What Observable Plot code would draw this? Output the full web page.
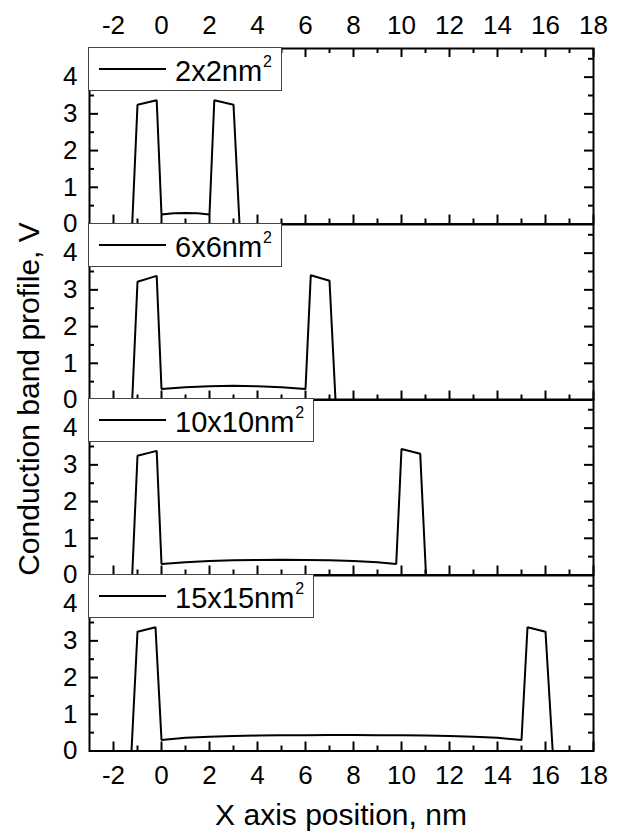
<!DOCTYPE html>
<html>
<head>
<meta charset="utf-8">
<script src="https://cdn.jsdelivr.net/npm/d3@7"></script>
<script src="https://cdn.jsdelivr.net/npm/@observablehq/plot@0.6"></script>
<style>
  body { margin: 0; background: #fff; }
  #wrap { position: relative; width: 621px; height: 833px; font-family: "Liberation Sans", Arial, sans-serif; color: #000; }
  #wrap svg { position: absolute; left: 0; }
  .leg { position: absolute; left: 88px; height: 44px; box-sizing: border-box; border: 1px solid #444; background: #fff;
         display: flex; align-items: center; padding: 6px 9px 0 10px; font-size: 29px; white-space: nowrap; line-height: 1.1; }
  .leg .ln { display: inline-block; width: 67px; height: 2px; background: #000; margin-right: 9px; position: relative; top: -3px; }
  .leg sup { font-size: 16px; position: relative; top: -14px; vertical-align: baseline; line-height: 0; margin-left: 1px; }
  .ytitle { position: absolute; left: -221px; top: 382px; width: 500px; text-align: center; font-size: 30px; line-height: 34px;
            transform: rotate(-90deg); transform-origin: 250px 17px; white-space: nowrap; }
  .xtitle { position: absolute; left: 89px; width: 504px; top: 798px; text-align: center; font-size: 30px; line-height: 34px; white-space: nowrap; }
</style>
</head>
<body>
<div id="wrap">
  <div class="ytitle">Conduction band profile, V</div>
  <div class="xtitle">X axis position, nm</div>
</div>
<script>
// ---- data ----
const panels = ["2x2", "6x6", "10x10", "15x15"];

const x2  = [-1.22, -1.0, -0.2, 0.0, 0.5, 1.0, 1.5, 2.0, 2.2, 3.0, 3.25];
const y2  = [0, 3.25, 3.37, 0.26, 0.29, 0.30, 0.29, 0.26, 3.37, 3.25, 0];

const x6  = [-1.22, -1.0, -0.2, 0.0, 1, 2, 3, 4, 5, 6.0, 6.22, 7.0, 7.25];
const y6  = [0, 3.22, 3.38, 0.30, 0.35, 0.375, 0.385, 0.375, 0.35, 0.30, 3.40, 3.25, 0];

const x10 = [-1.22, -1.0, -0.2, 0.0, 1, 2, 3, 4, 5, 6, 7, 8, 9, 9.78, 10.0, 10.78, 11.02];
const y10 = [0, 3.25, 3.38, 0.30, 0.35, 0.38, 0.40, 0.41, 0.415, 0.41, 0.40, 0.38, 0.35, 0.30, 3.43, 3.30, 0];

const x15 = [-1.25, -1.0, -0.25, 0.0, 1, 2, 3, 4, 5, 6, 7, 7.5, 8, 9, 10, 11, 12, 13, 14, 15.0, 15.25, 16.0, 16.3];
const y15 = [0, 3.25, 3.37, 0.30, 0.36, 0.39, 0.41, 0.42, 0.43, 0.43, 0.435, 0.435, 0.435, 0.43, 0.43, 0.42, 0.41, 0.39, 0.36, 0.30, 3.37, 3.25, 0];

const xMajor = [-2, 0, 2, 4, 6, 8, 10, 12, 14, 16, 18];
const xMinor = [-1, 1, 3, 5, 7, 9, 11, 13, 15, 17];
const yMajor = [0, 1, 2, 3, 4];
const yMinor = [0.5, 1.5, 2.5, 3.5, 4.5];

const xDomain = [-3, 18];
const yDomain = [0, 4.78];

const series = [[x2, y2], [x6, y6], [x10, y10], [x15, y15]];

// ---- layout ----
const W = 621, H = 833;
const mL = 89, mR = 28, mT = 48, mB = 83, pad = 3;
const PW = W - mL - mR;
const PH = (H - mT - mB) / panels.length;
const kx = (xDomain[1] - xDomain[0]) / PW;  // data units per pixel
const ky = (yDomain[1] - yDomain[0]) / PH;
const maj = 9, mnr = 5;                      // tick lengths, px
const tick = {stroke: "#000", strokeWidth: 2};
const fmt = d => String(d);

const wrap = document.getElementById("wrap");

function panelPlot(i) {
  const first = i === 0, last = i === panels.length - 1;
  const mt = first ? mT : pad, mb = last ? mB : pad;
  const [xs, ys] = series[i];
  const data = xs.map((x, j) => ({x, y: ys[j]}));
  const marks = [
    Plot.line(data, {x: "x", y: "y", stroke: "#000", strokeWidth: 2, strokeLinejoin: "miter"}),
    // inward ticks: bottom
    Plot.ruleX(xMajor, {x: d => d, y1: yDomain[0], y2: yDomain[0] + maj * ky, ...tick}),
    Plot.ruleX(xMinor, {x: d => d, y1: yDomain[0], y2: yDomain[0] + mnr * ky, ...tick}),
    // inward ticks: left and right
    Plot.ruleY(yMajor, {y: d => d, x1: xDomain[0], x2: xDomain[0] + maj * kx, ...tick}),
    Plot.ruleY(yMinor, {y: d => d, x1: xDomain[0], x2: xDomain[0] + mnr * kx, ...tick}),
    Plot.ruleY(yMajor, {y: d => d, x1: xDomain[1], x2: xDomain[1] - maj * kx, ...tick}),
    Plot.ruleY(yMinor, {y: d => d, x1: xDomain[1], x2: xDomain[1] - mnr * kx, ...tick}),
    Plot.frame({stroke: "#000", strokeWidth: 2}),
    Plot.axisY(yMajor, {anchor: "left", tickSize: 0, tickPadding: 12, tickFormat: fmt, label: null, fill: "#000"})
  ];
  if (first) {
    marks.push(
      Plot.ruleX(xMajor, {x: d => d, y1: yDomain[1], y2: yDomain[1] - maj * ky, ...tick}),
      Plot.ruleX(xMinor, {x: d => d, y1: yDomain[1], y2: yDomain[1] - mnr * ky, ...tick}),
      Plot.axisX(xMajor, {anchor: "top", tickSize: 0, tickPadding: 15, tickFormat: fmt, label: null, fill: "#000"})
    );
  }
  if (last) {
    marks.push(Plot.axisX(xMajor, {anchor: "bottom", tickSize: 0, tickPadding: 15, tickFormat: fmt, label: null, fill: "#000"}));
  }
  const svg = Plot.plot({
    width: W, height: mt + PH + mb,
    marginLeft: mL, marginRight: mR, marginTop: mt, marginBottom: mb,
    style: {fontFamily: "'Liberation Sans', Arial, sans-serif", fontSize: "26px", background: "transparent", overflow: "visible", color: "#000"},
    x: (first || last) ? {domain: xDomain} : {domain: xDomain, axis: null},
    y: {domain: yDomain},
    marks
  });
  svg.style.top = (mT + i * PH - mt) + "px";
  return svg;
}

panels.forEach((p, i) => wrap.appendChild(panelPlot(i)));

// ---- legends (one per panel) ----
panels.forEach((p, i) => {
  const d = document.createElement("div");
  d.className = "leg";
  d.style.top = (mT + i * PH - 1) + "px";
  d.innerHTML = `<span class="ln"></span><span>${p}nm<sup>2</sup></span>`;
  wrap.appendChild(d);
});
</script>
</body>
</html>
